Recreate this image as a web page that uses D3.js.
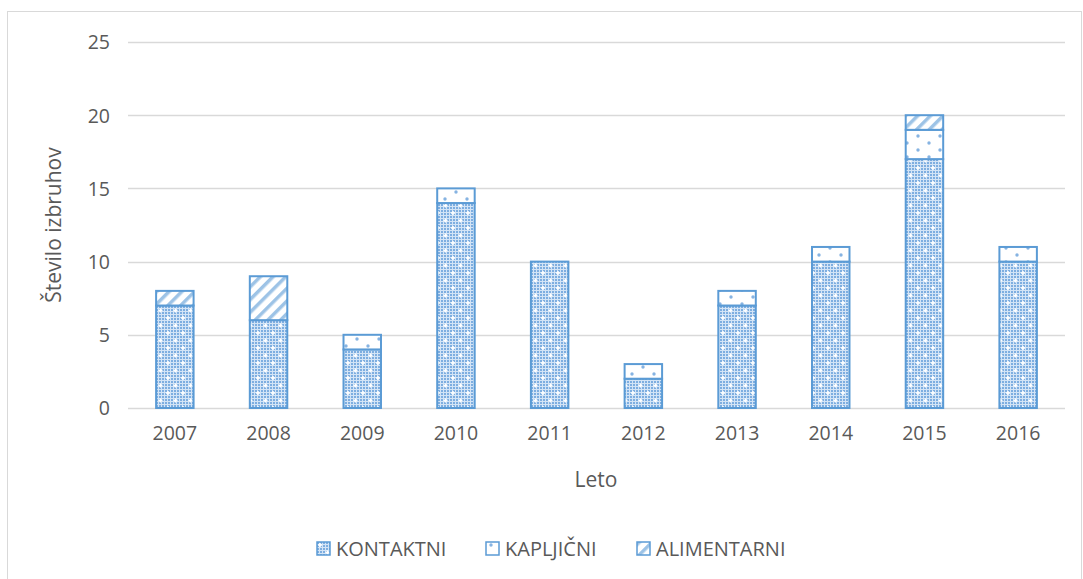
<!DOCTYPE html>
<html>
<head>
<meta charset="utf-8">
<script src="https://cdn.jsdelivr.net/npm/d3@7"></script>
<style>
  body { margin: 0; background: #fff; }
  text { font-family: "Open Sans", "Noto Sans", sans-serif; fill: #595959; }
</style>
</head>
<body>
<svg id="chart" width="1083" height="579"></svg>
<script>
const years = ['2007', '2008', '2009', '2010', '2011', '2012', '2013', '2014', '2015', '2016'];
const kontaktni = [7, 6, 4, 14, 10, 2, 7, 10, 17, 10];
const kapljicni = [0, 0, 1, 1, 0, 1, 1, 1, 2, 1];
const alimentarni = [1, 3, 0, 0, 0, 0, 0, 0, 1, 0];
const seriesNames = ['KONTAKTNI', 'KAPLJIČNI', 'ALIMENTARNI'];
const yTicks = [0, 5, 10, 15, 20, 25];

const blue = '#5B9BD5';
const svg = d3.select('#chart');

// chart frame
svg.append('rect')
  .attr('x', 7.5).attr('y', 11.5)
  .attr('width', 1074).attr('height', 600)
  .attr('fill', 'none').attr('stroke', '#D9D9D9');

// patterns
const defs = svg.append('defs');

const pk = defs.append('pattern')
  .attr('id', 'p-kontaktni').attr('patternUnits', 'userSpaceOnUse')
  .attr('width', 15).attr('height', 15);
pk.append('rect').attr('width', 15).attr('height', 15).attr('fill', '#D3E4F6');
for (let i = 0; i < 5; i++) {
  for (let j = 0; j < 5; j++) {
    pk.append('rect').attr('x', i * 3).attr('y', j * 3)
      .attr('width', 2).attr('height', 2).attr('fill', '#7EAEE0');
  }
}
[[3, 3], [10.5, 10.5]].forEach(([cx, cy]) => {
  pk.append('path')
    .attr('d', `M${cx - 2},${cy}H${cx + 2}M${cx},${cy - 2}V${cy + 2}`)
    .attr('stroke', '#fff').attr('stroke-width', 1.5);
});

const pd = defs.append('pattern')
  .attr('id', 'p-kapljicni').attr('patternUnits', 'userSpaceOnUse')
  .attr('width', 22).attr('height', 14);
pd.append('rect').attr('width', 22).attr('height', 14).attr('fill', '#fff');
[[5, 3], [16, 10]].forEach(([cx, cy]) => {
  pd.append('circle').attr('cx', cx).attr('cy', cy).attr('r', 1.7).attr('fill', '#86B3E2');
});

const pa = defs.append('pattern')
  .attr('id', 'p-alimentarni').attr('patternUnits', 'userSpaceOnUse')
  .attr('width', 9).attr('height', 9)
  .attr('patternTransform', 'rotate(45)');
pa.append('rect').attr('width', 9).attr('height', 9).attr('fill', '#fff');
pa.append('rect').attr('x', 0).attr('width', 3.5).attr('height', 9).attr('fill', '#9DC3E6');

const fills = ['url(#p-kontaktni)', 'url(#p-kapljicni)', 'url(#p-alimentarni)'];

const x = d3.scaleBand().domain(years).range([128, 1065]).paddingInner(0.6).paddingOuter(0.3);
const y = d3.scaleLinear().domain([0, 25]).range([408, 42]);

// gridlines
svg.append('g')
  .selectAll('line')
  .data(yTicks)
  .join('line')
  .attr('x1', 128).attr('x2', 1065)
  .attr('y1', d => Math.round(y(d)) + 0.5).attr('y2', d => Math.round(y(d)) + 0.5)
  .attr('stroke', '#D9D9D9').attr('stroke-width', 1.3);

// y axis labels
const yAxis = svg.append('g')
  .attr('transform', 'translate(110,0)')
  .call(d3.axisLeft(y).tickValues(yTicks).tickSize(0).tickPadding(0));
yAxis.select('.domain').remove();
yAxis.selectAll('text')
  .style('font-family', '"Open Sans", sans-serif')
  .style('font-size', '19.5px').attr('fill', '#595959').attr('dy', '0.35em');

// x axis labels
const xAxis = svg.append('g')
  .attr('transform', 'translate(0,408)')
  .call(d3.axisBottom(x).tickSize(0).tickPadding(18));
xAxis.select('.domain').remove();
xAxis.selectAll('text')
  .style('font-family', '"Open Sans", sans-serif')
  .style('font-size', '19.5px').attr('fill', '#595959');

// stacked bars
const table = years.map((yr, i) => ({
  year: yr,
  KONTAKTNI: kontaktni[i],
  'KAPLJIČNI': kapljicni[i],
  ALIMENTARNI: alimentarni[i]
}));
const stacked = d3.stack().keys(seriesNames)(table);

svg.append('g')
  .selectAll('g')
  .data(stacked)
  .join('g')
  .attr('fill', (d, i) => fills[i])
  .selectAll('rect')
  .data(d => d.filter(s => s[1] > s[0]))
  .join('rect')
  .attr('x', d => x(d.data.year))
  .attr('y', d => y(d[1]))
  .attr('width', x.bandwidth())
  .attr('height', d => y(d[0]) - y(d[1]))
  .attr('stroke', blue).attr('stroke-width', 2);

// axis titles
svg.append('text')
  .attr('x', 596).attr('y', 487)
  .attr('text-anchor', 'middle')
  .style('font-size', '21px')
  .text('Leto');

svg.append('text')
  .attr('transform', 'translate(61,225) rotate(-90)')
  .attr('text-anchor', 'middle')
  .style('font-size', '21px')
  .text('Število izbruhov');

// legend
const legendX = [317, 486, 637];
const legend = svg.append('g')
  .selectAll('g')
  .data(seriesNames)
  .join('g')
  .attr('transform', (d, i) => `translate(${legendX[i]},542)`);
legend.append('rect')
  .attr('width', 13).attr('height', 13)
  .attr('fill', (d, i) => fills[i])
  .attr('stroke', blue).attr('stroke-width', 1.5);
legend.append('text')
  .attr('x', 19).attr('y', 7).attr('dy', '0.35em')
  .style('font-size', '20px')
  .text(d => d);
</script>
</body>
</html>
